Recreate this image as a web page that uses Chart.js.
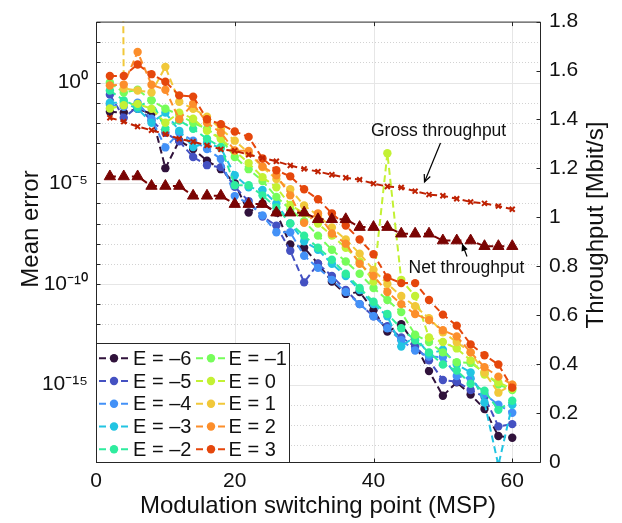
<!DOCTYPE html>
<html>
<head>
<meta charset="utf-8">
<script src="https://cdn.jsdelivr.net/npm/chart.js@4.4.1/dist/chart.umd.min.js"></script>
<style>
html,body{margin:0;padding:0;background:#ffffff;}
#wrap{width:622px;height:523px;position:relative;}
</style>
</head>
<body>
<div id="wrap"><canvas id="c" width="622" height="523"></canvas></div>
<script>
// ---------------- data ----------------
const MSP = [2,4,6,8,10,12,14,16,18,20,22,24,26,28,30,32,34,36,38,40,42,44,46,48,50,52,54,56,58,60];

const E_LABELS = ['E = –6','E = –5','E = –4','E = –3','E = –2','E = –1','E = 0','E = 1','E = 2','E = 3'];
const E_COLORS = ['#30123b','#4451c2','#4391f7','#22c4e2','#2eec9e','#76fd5a','#c3f134','#f1c83a','#fc8e2b','#e5470c'];

const ERR_EM6 = [3.5e-2,3.2e-2,5.0e-2,2.8e-2,5.6e-5,1.3e-3,5.0e-4,1.3e-4,5.0e-5,1.0e-5,3.5e-7,1.0e-6,3.5e-7,9.1e-9,6.3e-9,1.0e-9,1.3e-10,3.2e-11,4.0e-11,5.0e-12,4.3e-13,1.0e-12,1.0e-13,4.7e-15,2.8e-16,1.3e-15,3.2e-16,6.2e-17,2.8e-18,2.3e-18];
const ERR_EM5 = [2.5e-1,1.8e-2,6.3e-2,1.3e-2,3.2e-3,1.2e-3,2.0e-4,7.9e-5,6.3e-5,6.6e-6,1.3e-6,2.2e-7,7.9e-8,4.4e-9,1.2e-10,1.0e-9,2.5e-10,5.0e-11,1.0e-11,2.5e-12,7.9e-13,2.2e-13,7.9e-14,1.6e-14,1.7e-15,1.4e-15,5.4e-16,2.5e-16,8.5e-18,1.1e-17];
const ERR_EM4 = [7.9e-2,6.3e-2,1.0e-1,1.6e-2,6.0e-4,3.2e-3,1.3e-3,5.0e-4,1.6e-4,2.3e-6,1.0e-6,2.5e-7,3.7e-8,3.7e-8,2.5e-9,6.3e-10,1.6e-10,4.0e-11,1.0e-11,2.5e-12,6.3e-13,1.6e-13,5.0e-14,2.5e-14,2.3e-14,2.7e-15,2.0e-15,3.4e-16,1.0e-16,4.0e-17];
const ERR_EM3 = [1.0e-1,1.0e-1,5.0e-2,1.0e-2,3.2e-2,4.0e-3,6.3e-4,1.0e-3,5.6e-4,2.5e-5,6.3e-6,4.6e-6,1.0e-6,1.0e-7,1.3e-8,5.0e-9,1.0e-9,2.5e-10,5.0e-11,1.0e-11,2.5e-12,7.9e-14,2.5e-13,3.2e-14,5.4e-14,1.0e-14,4.0e-15,1.3e-16,1.0e-19,1.0e-16];
const ERR_EM2 = [4.0e-1,1.3e-1,6.3e-2,1.3e-1,4.8e-3,1.3e-2,5.0e-3,1.6e-3,6.3e-4,7.9e-6,7.9e-6,2.5e-6,6.3e-7,1.0e-7,2.5e-8,6.3e-9,1.6e-9,3.2e-10,6.3e-11,1.3e-11,3.2e-12,6.3e-13,1.6e-13,4.0e-14,1.0e-14,5.0e-15,1.1e-15,5.0e-16,5.6e-17,1.6e-16];
const ERR_EM1 = [1.0e0,3.2e-1,4.4e-1,1.3e-1,5.0e-2,2.5e-2,1.0e-2,5.0e-3,1.6e-3,2.0e-4,5.0e-5,1.3e-5,2.1e-6,5.0e-7,1.3e-7,2.5e-8,5.0e-9,1.3e-9,3.2e-10,6.3e-11,1.6e-11,4.0e-12,3.0e-13,1.3e-13,4.0e-14,1.3e-14,1.2e-14,4.0e-15,1.0e-15,5.4e-16];
const ERR_E0  = [5.1e-2,7.4e-2,8.7e-2,5.0e-2,1.0e-2,3.2e-2,1.6e-2,4.0e-3,1.6e-3,4.0e-4,1.0e-4,2.0e-5,6.3e-6,8.3e-7,3.2e-7,1.0e-7,2.5e-8,6.3e-9,1.3e-9,1.3e-10,3.1e-4,1.6e-10,2.5e-11,2.2e-13,1.3e-13,6.3e-14,1.6e-14,3.2e-15,1.3e-15,6.3e-16];
const ERR_E1  = [1e100,5.0e-1,4.0e-1,3.2e-1,6.0e0,1.1e-1,5.0e-2,2.0e-2,5.0e-3,1.3e-3,3.2e-4,6.3e-5,1.6e-5,5.0e-6,7.9e-7,2.5e-7,6.3e-8,1.6e-8,3.2e-9,5.0e-10,1.0e-10,2.5e-11,7.9e-12,2.0e-12,4.0e-13,1.3e-13,4.0e-14,4.0e-15,4.0e-16,1.0e-15];
const ERR_E2  = [7.1e-1,7.9e-1,3.3e1,7.8e-1,4.4e-1,1.5e-2,8.9e-2,1.0e-2,3.2e-3,4.2e-4,4.0e-4,6.8e-5,2.5e-5,2.5e-6,1.1e-7,3.2e-7,3.2e-8,1.0e-8,1.0e-9,2.5e-10,4.0e-11,1.0e-11,3.2e-12,1.6e-12,5.0e-13,2.5e-13,4.0e-14,7.4e-15,2.5e-15,1.0e-15];
const ERR_E3  = [2.1e0,2.1e0,7.9e0,2.6e0,1.1e0,2.3e-1,2.0e-1,1.5e-2,8.5e-3,3.7e-3,2.0e-3,1.7e-4,4.4e-5,2.2e-5,5.0e-6,1.6e-6,3.2e-7,7.9e-8,1.6e-8,3.0e-9,2.1e-10,1.1e-10,1.1e-10,1.6e-11,3.0e-12,8.5e-13,1.0e-13,2.9e-14,1.0e-14,7.1e-16];

const E_SERIES = [ERR_EM6,ERR_EM5,ERR_EM4,ERR_EM3,ERR_EM2,ERR_EM1,ERR_E0,ERR_E1,ERR_E2,ERR_E3];

const GROSS_THROUGHPUT = [1.407,1.391,1.371,1.356,1.340,1.321,1.309,1.294,1.278,1.272,1.256,1.243,1.229,1.212,1.198,1.187,1.174,1.162,1.154,1.138,1.126,1.122,1.107,1.093,1.088,1.076,1.063,1.057,1.046,1.033];
const NET_THROUGHPUT   = [1.167,1.167,1.167,1.128,1.128,1.128,1.088,1.088,1.088,1.054,1.054,1.054,1.019,1.019,1.019,0.992,0.992,0.992,0.960,0.960,0.960,0.933,0.933,0.933,0.905,0.905,0.905,0.882,0.882,0.882];

const X_TICKS = [0,20,40,60];
const LEFT_TICK_EXPONENTS = [-18,-17,-16,-15,-14,-13,-12,-11,-10,-9,-8,-7,-6,-5,-4,-3,-2,-1,0,1,2,3];
const LEFT_TICK_LABELS = {'0':'10⁰','-5':'10⁻⁵','-10':'10⁻¹⁰','-15':'10⁻¹⁵'};
const RIGHT_TICKS = [0,0.2,0.4,0.6,0.8,1,1.2,1.4,1.6,1.8];
const RIGHT_TICK_LABELS = ['0','0.2','0.4','0.6','0.8','1','1.2','1.4','1.6','1.8'];

const X_TITLE = 'Modulation switching point (MSP)';
const Y_TITLE = 'Mean error';
const Y2_TITLE = 'Throughput [Mbit/s]';
const GROSS_LABEL = 'Gross throughput';
const NET_LABEL = 'Net throughput';
const GROSS_COLOR = '#bf2203';
const NET_COLOR = '#7a0403';

// ---------------- styling ----------------
const FONT = "'Liberation Sans', Arial, Helvetica, sans-serif";
const TXT = '#111111';
const AX = '#262626';

const datasets = [];
datasets.push({
  label: GROSS_LABEL, yAxisID: 'y1',
  data: MSP.map((m,i)=>({x:m,y:GROSS_THROUGHPUT[i]})),
  borderColor: GROSS_COLOR, backgroundColor: GROSS_COLOR,
  borderWidth: 2, borderDash: [7,4],
  pointStyle: 'crossRot', pointRadius: 3.5, pointBorderWidth: 2,
  pointBorderColor: GROSS_COLOR
});
datasets.push({
  label: NET_LABEL, yAxisID: 'y1',
  data: MSP.map((m,i)=>({x:m,y:NET_THROUGHPUT[i]})),
  borderColor: NET_COLOR, backgroundColor: NET_COLOR,
  borderWidth: 2, borderDash: [6,5],
  pointStyle: 'triangle', pointRadius: 6.5, pointBorderWidth: 1,
  pointBackgroundColor: NET_COLOR, pointBorderColor: NET_COLOR
});
for (let k = E_SERIES.length-1; k >= 0; k--) {
  const c = E_COLORS[k];
  datasets.push({
    label: E_LABELS[k], yAxisID: 'y',
    data: MSP.map((m,i)=>({x:m,y:E_SERIES[k][i]})),
    borderColor: c, backgroundColor: c,
    borderWidth: 2, borderDash: [7,4],
    pointStyle: 'circle', pointRadius: 4.2, pointBorderWidth: 0,
    pointBackgroundColor: c, pointBorderColor: c
  });
}

function drawArrow(ctx, x1, y1, x2, y2, filled) {
  const ang = Math.atan2(y2-y1, x2-x1);
  const L = 8, W = 0.42;
  ctx.beginPath(); ctx.moveTo(x1,y1); ctx.lineTo(x2,y2); ctx.stroke();
  const ax = x2 - L*Math.cos(ang-W), ay = y2 - L*Math.sin(ang-W);
  const bx = x2 - L*Math.cos(ang+W), by = y2 - L*Math.sin(ang+W);
  ctx.beginPath();
  if (filled) {
    ctx.moveTo(x2,y2); ctx.lineTo(ax,ay); ctx.lineTo(bx,by); ctx.closePath(); ctx.fill();
  } else {
    ctx.moveTo(ax,ay); ctx.lineTo(x2,y2); ctx.lineTo(bx,by); ctx.stroke();
  }
}

const decor = {
  id: 'decor',
  beforeDatasetsDraw(chart) {
    const {ctx, chartArea: a, scales} = chart;
    const y = scales.y, x = scales.x;
    ctx.save();
    ctx.lineWidth = 1;
    for (const e of LEFT_TICK_EXPONENTS) {
      const py = Math.round(y.getPixelForValue(Math.pow(10, e))) + 0.5;
      if (py < a.top + 1 || py > a.bottom - 1) continue;
      ctx.beginPath();
      if (e % 5 === 0) { ctx.setLineDash([]); ctx.strokeStyle = '#e6e6e6'; }
      else { ctx.setLineDash([1,2]); ctx.strokeStyle = '#d2d2d2'; }
      ctx.moveTo(a.left, py); ctx.lineTo(a.right, py); ctx.stroke();
    }
    ctx.setLineDash([]); ctx.strokeStyle = '#e6e6e6';
    for (const v of X_TICKS) {
      const px = Math.round(x.getPixelForValue(v)) + 0.5;
      if (px < a.left + 1 || px > a.right - 1) continue;
      ctx.beginPath(); ctx.moveTo(px, a.top); ctx.lineTo(px, a.bottom); ctx.stroke();
    }
    ctx.restore();
  },
  afterDatasetsDraw(chart) {
    const {ctx, chartArea: a, scales} = chart;
    const y = scales.y, y1 = scales.y1, x = scales.x;
    ctx.save();
    ctx.strokeStyle = AX; ctx.lineWidth = 1; ctx.setLineDash([]);
    const L = a.left + 0.5, R = a.right + 0.5, T = a.top + 0.5, B = a.bottom + 0.5;
    ctx.beginPath();
    ctx.moveTo(L, T); ctx.lineTo(R, T); ctx.lineTo(R, B); ctx.lineTo(L, B); ctx.closePath();
    ctx.stroke();
    for (const e of LEFT_TICK_EXPONENTS) {
      const py = Math.round(y.getPixelForValue(Math.pow(10, e))) + 0.5;
      ctx.beginPath(); ctx.moveTo(L, py); ctx.lineTo(L + 4, py); ctx.stroke();
    }
    for (const v of RIGHT_TICKS) {
      const py = Math.round(y1.getPixelForValue(v)) + 0.5;
      ctx.beginPath(); ctx.moveTo(R - 4, py); ctx.lineTo(R, py); ctx.stroke();
    }
    for (const v of X_TICKS) {
      const px = Math.round(x.getPixelForValue(v)) + 0.5;
      ctx.beginPath(); ctx.moveTo(px, B); ctx.lineTo(px, B - 4); ctx.stroke();
      ctx.beginPath(); ctx.moveTo(px, T); ctx.lineTo(px, T + 4); ctx.stroke();
    }
    ctx.restore();
  },
  afterDraw(chart) {
    const {ctx} = chart;
    ctx.save();
    ctx.fillStyle = TXT;
    ctx.font = '24px ' + FONT;
    ctx.textAlign = 'center'; ctx.textBaseline = 'middle';
    ctx.save(); ctx.translate(31, 229); ctx.rotate(-Math.PI/2); ctx.fillText(Y_TITLE, 0, 0); ctx.restore();
    ctx.save(); ctx.translate(596, 225); ctx.rotate(-Math.PI/2); ctx.fillText(Y2_TITLE, 0, 0); ctx.restore();

    // legend
    const lx0 = 96.5, ly0 = 343.5, lx1 = 289.5, ly1 = 462.5;
    ctx.fillStyle = '#ffffff';
    ctx.fillRect(lx0, ly0, lx1 - lx0, ly1 - ly0);
    ctx.strokeStyle = AX; ctx.lineWidth = 1;
    ctx.strokeRect(lx0, ly0, lx1 - lx0, ly1 - ly0);
    const rows = [358.3, 381, 403.8, 426.5, 449.3];
    const cols = [{l0:99, l1:129, m:114, t:133}, {l0:196, l1:226, m:211, t:228.5}];
    ctx.font = '20px ' + FONT;
    ctx.textAlign = 'left'; ctx.textBaseline = 'middle';
    for (let k = 0; k < E_LABELS.length; k++) {
      const col = cols[Math.floor(k / 5)], ry = rows[k % 5];
      const c = E_COLORS[k];
      ctx.strokeStyle = c; ctx.lineWidth = 2; ctx.setLineDash([7,4]);
      ctx.beginPath(); ctx.moveTo(col.l0, ry); ctx.lineTo(col.l1, ry); ctx.stroke();
      ctx.setLineDash([]);
      ctx.fillStyle = c;
      ctx.beginPath(); ctx.arc(col.m, ry, 4.2, 0, Math.PI*2); ctx.fill();
      ctx.fillStyle = TXT;
      ctx.fillText(E_LABELS[k], col.t, ry + 1);
    }

    // annotations
    ctx.fillStyle = TXT; ctx.strokeStyle = '#000000'; ctx.lineWidth = 1.2;
    ctx.font = '17.5px ' + FONT;
    ctx.textAlign = 'left'; ctx.textBaseline = 'middle';
    ctx.fillText(GROSS_LABEL, 371, 131.5);
    ctx.fillText(NET_LABEL, 408.5, 268);
    ctx.fillStyle = '#000000';
    drawArrow(ctx, 440.5, 143, 424.5, 182, false);
    drawArrow(ctx, 467, 256.5, 462, 243.5, true);
    ctx.restore();
  }
};

new Chart(document.getElementById('c'), {
  type: 'line',
  data: { datasets },
  options: {
    responsive: false,
    animation: false,
    devicePixelRatio: 1,
    layout: { padding: { top: 16, left: 0, right: 0, bottom: 0 } },
    plugins: { legend: { display: false }, tooltip: { enabled: false } },
    elements: { line: { tension: 0 } },
    scales: {
      x: {
        type: 'linear', position: 'bottom', min: 0, max: 64,
        afterBuildTicks: (s) => { s.ticks = X_TICKS.map(v => ({value: v})); },
        afterFit: (s) => { s.height = 61; },
        grid: { display: false, drawTicks: false },
        border: { display: false },
        ticks: { font: { family: FONT, size: 21 }, color: TXT, padding: 7, maxRotation: 0, autoSkip: false },
        title: { display: true, text: X_TITLE, font: { family: FONT, size: 24 }, color: TXT, padding: { top: 0, bottom: 2 } }
      },
      y: {
        type: 'logarithmic', position: 'left',
        min: 1.445e-19, max: 1059,
        afterBuildTicks: (s) => { s.ticks = LEFT_TICK_EXPONENTS.map(e => ({value: Math.pow(10, e)})); },
        afterFit: (s) => { s.width = 96; },
        grid: { display: false, drawTicks: false },
        border: { display: false },
        ticks: {
          font: { family: FONT, size: 21 }, color: TXT, padding: 8, autoSkip: false,
          callback: (v) => { const e = Math.round(Math.log10(v)); return LEFT_TICK_LABELS[String(e)] || ''; }
        }
      },
      y1: {
        type: 'linear', position: 'right', min: 0, max: 1.8,
        afterBuildTicks: (s) => { s.ticks = RIGHT_TICKS.map(v => ({value: v})); },
        afterFit: (s) => { s.width = 82; },
        grid: { display: false, drawTicks: false },
        border: { display: false },
        ticks: {
          font: { family: FONT, size: 21 }, color: TXT, padding: 9, autoSkip: false,
          callback: (v, i) => RIGHT_TICK_LABELS[i]
        }
      }
    }
  },
  plugins: [decor]
});
</script>
</body>
</html>
